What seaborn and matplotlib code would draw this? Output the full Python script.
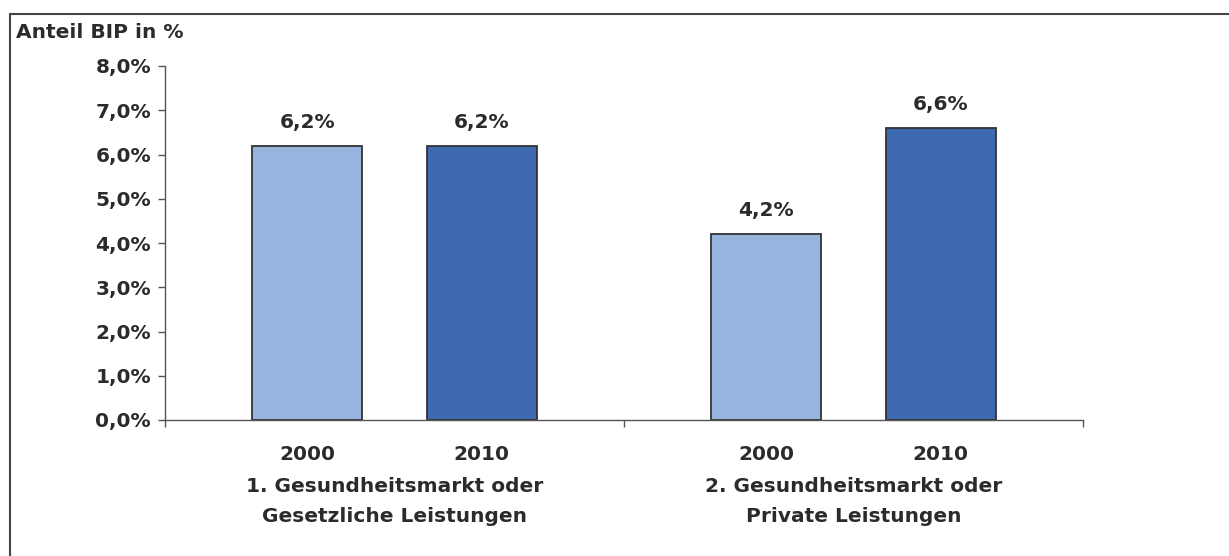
import matplotlib
matplotlib.use("Agg")
import matplotlib.pyplot as plt
import seaborn as sns
import pandas as pd
from matplotlib.lines import Line2D

sns.set_theme(style="white")
plt.rcParams['font.family'] = ['DejaVu Sans']
plt.rcParams['font.weight'] = 'bold'

# ---- data ----
groups = ["1. Gesundheitsmarkt oder\nGesetzliche Leistungen",
          "2. Gesundheitsmarkt oder\nPrivate Leistungen"]
years = ["2000", "2010"]
values_2000 = [6.2, 4.2]
values_2010 = [6.2, 6.6]
yticks = [0, 1, 2, 3, 4, 5, 6, 7, 8]
ylabel = "Anteil BIP in %"

df = pd.DataFrame({
    "group": groups * 2,
    "year": [years[0]] * 2 + [years[1]] * 2,
    "value": values_2000 + values_2010,
})

FS = 14.5
text_col = "#2b2b2b"
colors = {"2000": "#95B5DF", "2010": "#3D69B1"}

fig = plt.figure(figsize=(12.29, 5.56), dpi=100)
ax = fig.add_axes([165/1229, 1-420/556, (1083-165)/1229, (420-66)/556])

sns.barplot(data=df, x="group", y="value", hue="year", order=groups,
            hue_order=years, palette=colors, saturation=1, width=0.76, gap=0.37,
            edgecolor="#333333", linewidth=1.3, legend=False, ax=ax)

ax.set_xlim(-0.5, 1.5)
ax.set_ylim(0, 8)
ax.set_yticks(yticks)
ax.set_yticklabels([f"{t:.1f}".replace(".", ",") + "%" for t in yticks],
                   fontsize=FS, fontweight="bold", color=text_col)
ax.set_xticks([-0.5, 0.5, 1.5])
ax.set_xticklabels([])
ax.set_xlabel("")
ax.set_ylabel("")
for s in ["top", "right"]:
    ax.spines[s].set_visible(False)
for s in ["left", "bottom"]:
    ax.spines[s].set_color("#555555")
    ax.spines[s].set_linewidth(1.0)
ax.tick_params(axis="both", which="major", direction="out", length=5,
               width=1.0, color="#555555", left=True, bottom=True)
ax.tick_params(axis="y", pad=5)
ax.grid(False)

# value labels and year labels
for cont, yr in zip(ax.containers, years):
    labs = [f"{v:.1f}".replace(".", ",") + "%" for v in cont.datavalues]
    ax.bar_label(cont, labels=labs, padding=10, fontsize=FS,
                 fontweight="bold", color=text_col)
    for p in cont.patches:
        xc = p.get_x() + p.get_width() / 2
        ax.annotate(yr, xy=(xc, 0), xycoords=("data", "axes fraction"),
                    xytext=(0, -18), textcoords="offset points",
                    ha="center", va="top", fontsize=FS, fontweight="bold",
                    color=text_col)

for i, g in enumerate(groups):
    ax.annotate(g, xy=(i, 0), xycoords=("data", "axes fraction"),
                xytext=(0, -41), textcoords="offset points",
                ha="center", va="top", fontsize=FS, fontweight="bold",
                color=text_col, linespacing=1.75)

fig.text(16/1229, 1-32/556, ylabel, ha="left", va="center", fontsize=FS,
         fontweight="bold", color=text_col)

# frame (top and left edges visible)
fig.add_artist(Line2D([10/1229, 1], [1-14/556, 1-14/556],
                      transform=fig.transFigure, color="#444444", lw=1.5))
fig.add_artist(Line2D([10/1229, 10/1229], [0, 1-14/556],
                      transform=fig.transFigure, color="#444444", lw=1.5))

fig.savefig("out.png", dpi=100, facecolor="white")
